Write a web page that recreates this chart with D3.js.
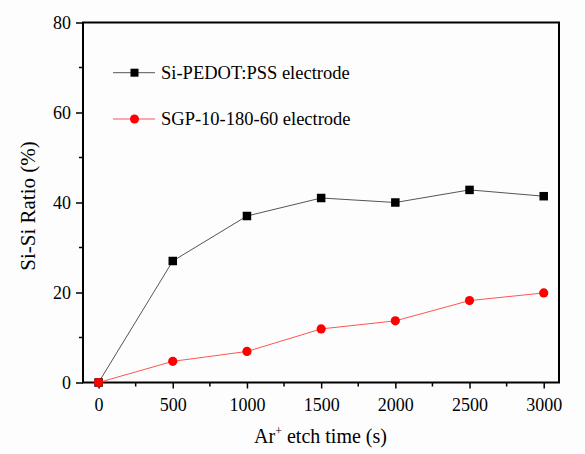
<!DOCTYPE html>
<html><head><meta charset="utf-8">
<script src="https://cdn.jsdelivr.net/npm/d3@7"></script>
<style>body{margin:0;background:#fdfdfd;} svg{display:block;} text{font-family:"Liberation Serif","Times New Roman",serif;fill:#000;}</style>
</head><body>
<script>
const times = [0, 500, 1000, 1500, 2000, 2500, 3000];
const pedotValues = [0, 27.0, 37.0, 41.0, 40.0, 42.8, 41.4];
const sgpValues = [0, 4.7, 6.9, 11.9, 13.7, 18.2, 19.9];
const seriesNames = ["Si-PEDOT:PSS electrode", "SGP-10-180-60 electrode"];
const xTicks = [0, 500, 1000, 1500, 2000, 2500, 3000];
const yTicks = [0, 20, 40, 60, 80];

const W = 585, H = 454;
const m = {left: 83, right: 559, top: 22.5, bottom: 382.5};
const svg = d3.select("body").append("svg").attr("width", W).attr("height", H);
svg.append("rect").attr("width", W).attr("height", H).attr("fill", "#fdfdfd");

const x = d3.scaleLinear().domain([-105, 3103]).range([m.left, m.right]);
const y = d3.scaleLinear().domain([0, 80]).range([m.bottom, m.top]);

// minor ticks
const xMinor = d3.range(250, 3000, 500);
const yMinor = d3.range(10, 80, 20);
svg.append("g").selectAll("line").data(xMinor).join("line")
  .attr("x1", d => x(d)).attr("x2", d => x(d)).attr("y1", m.bottom).attr("y2", m.bottom + 4)
  .attr("stroke", "#000").attr("stroke-width", 1.5);
svg.append("g").selectAll("line").data(yMinor).join("line")
  .attr("y1", d => y(d)).attr("y2", d => y(d)).attr("x1", m.left).attr("x2", m.left - 4)
  .attr("stroke", "#000").attr("stroke-width", 1.5);

const xAxis = svg.append("g").attr("transform", `translate(0,${m.bottom})`)
  .call(d3.axisBottom(x).tickValues(xTicks).tickSize(6).tickPadding(9.5).tickFormat(d3.format("d")));
const yAxis = svg.append("g").attr("transform", `translate(${m.left},0)`)
  .call(d3.axisLeft(y).tickValues(yTicks).tickSize(7).tickPadding(5).tickFormat(d3.format("d")));
[xAxis, yAxis].forEach(a => {
  a.attr("font-family", null);
  a.select(".domain").remove();
  a.selectAll(".tick line").attr("stroke", "#000").attr("stroke-width", 1.5);
  a.selectAll(".tick text").style("font-size", "18px").style("font-family", '"Liberation Serif",serif');
});

// frame
svg.append("rect").attr("x", m.left).attr("y", m.top)
  .attr("width", m.right - m.left).attr("height", m.bottom - m.top)
  .attr("fill", "none").attr("stroke", "#000").attr("stroke-width", 2);

const line = d3.line().x((d, i) => x(times[i])).y(d => y(d));
svg.append("path").datum(pedotValues).attr("d", line).attr("fill", "none").attr("stroke", "#555").attr("stroke-width", 1);
svg.append("path").datum(sgpValues).attr("d", line).attr("fill", "none").attr("stroke", "#ff5555").attr("stroke-width", 1);

svg.append("g").selectAll("rect").data(pedotValues).join("rect")
  .attr("x", (d, i) => x(times[i]) - 4.25).attr("y", d => y(d) - 4.25).attr("width", 8.5).attr("height", 8.5).attr("fill", "#000");
svg.append("g").selectAll("circle").data(sgpValues).join("circle")
  .attr("cx", (d, i) => x(times[i])).attr("cy", d => y(d)).attr("r", 4.6).attr("fill", "#ff0000");

// legend
const leg = [{y: 72.7, color: "#555", mark: "sq"}, {y: 119, color: "#ff5555", mark: "ci"}];
leg.forEach((l, i) => {
  const g = svg.append("g");
  g.append("line").attr("x1", 113).attr("x2", 155).attr("y1", l.y).attr("y2", l.y).attr("stroke", l.color).attr("stroke-width", 1);
  if (l.mark === "sq") g.append("rect").attr("x", 130.5).attr("y", l.y - 4).attr("width", 8).attr("height", 8).attr("fill", "#000");
  else g.append("circle").attr("cx", 134.5).attr("cy", l.y).attr("r", 4.5).attr("fill", "#ff0000");
  g.append("text").attr("x", 161).attr("y", l.y + 6.3).style("font-size", "18.5px").text(seriesNames[i]);
});

// axis labels
const xl = svg.append("text").attr("x", 320.5).attr("y", 443).attr("text-anchor", "middle").style("font-size", "20px");
xl.append("tspan").text("Ar");
xl.append("tspan").attr("dy", -8).style("font-size", "12px").text("+");
xl.append("tspan").attr("dy", 8).text(" etch time (s)");
svg.append("text").attr("transform", `translate(35,206) rotate(-90)`)
  .attr("text-anchor", "middle").style("font-size", "21px").text("Si-Si Ratio (%)");
</script>
</body></html>
